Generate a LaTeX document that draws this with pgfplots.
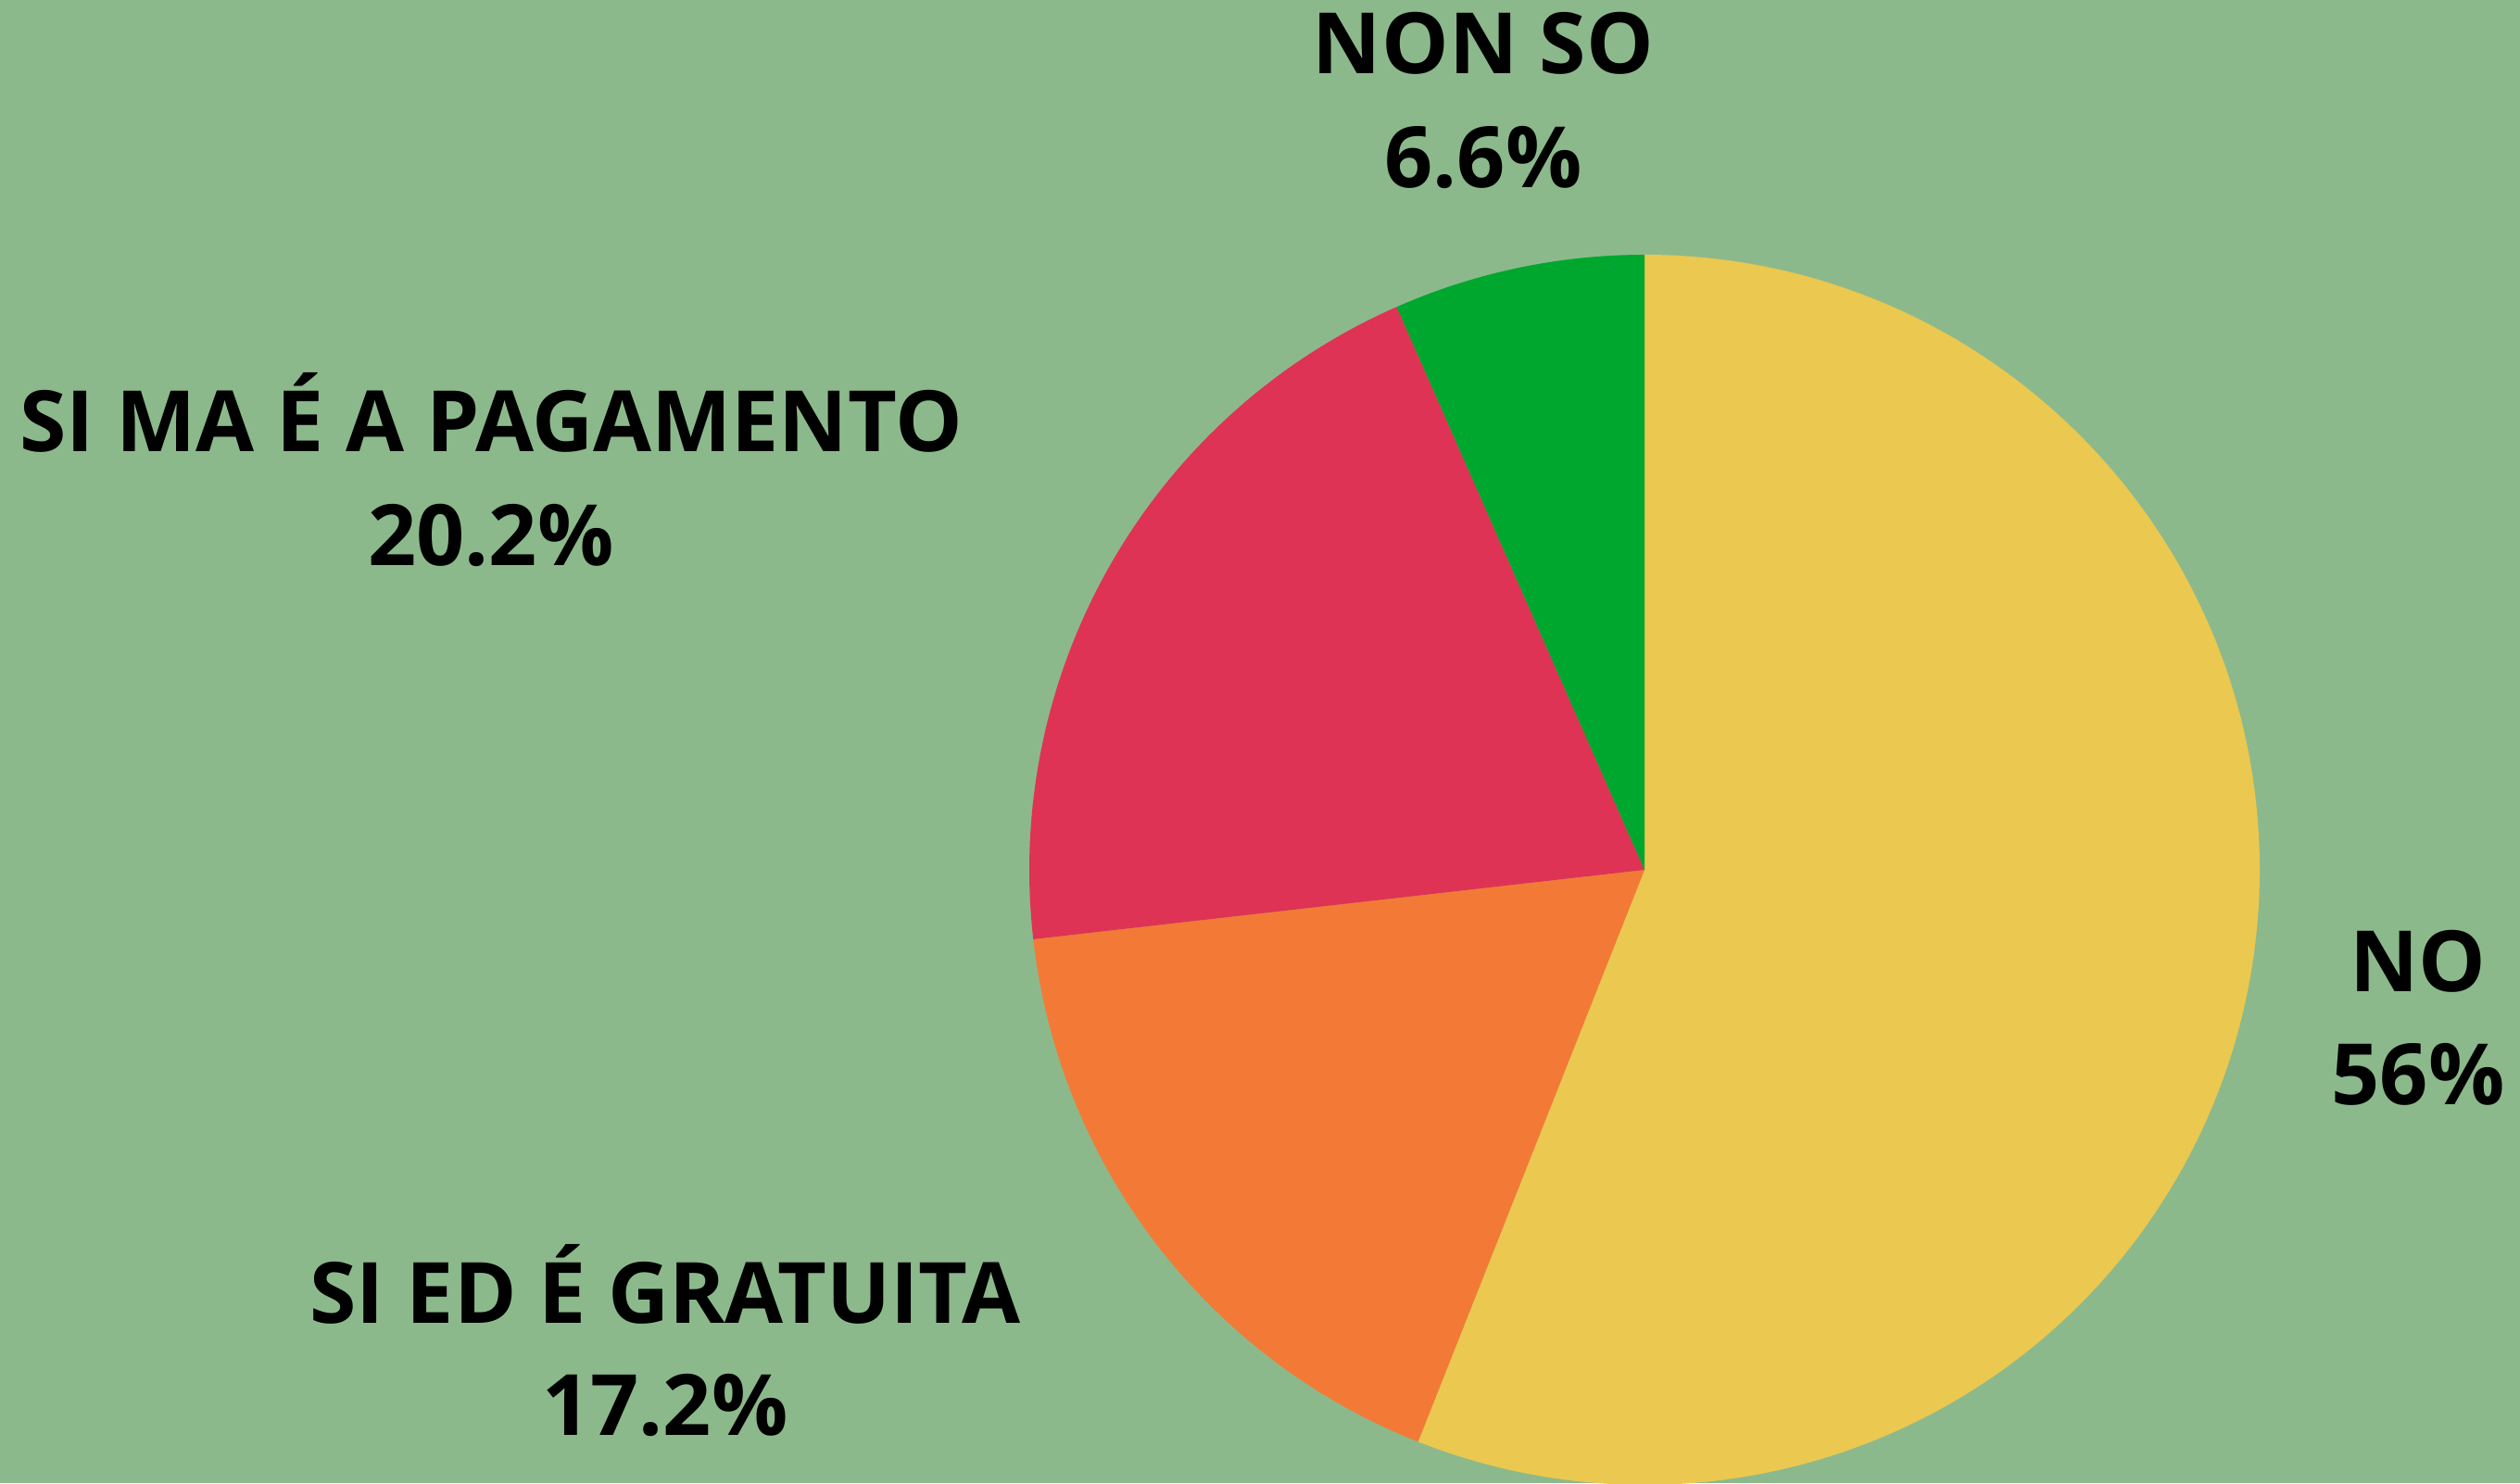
\documentclass[border=0pt]{standalone}
\usepackage{pgfplots}
\pgfplotsset{compat=1.18}
\usepackage{fontspec}
\setmainfont{Open Sans}
\definecolor{bg}{HTML}{8CB98C}
\definecolor{cno}{HTML}{EBC84F}
\definecolor{cgr}{HTML}{F37A36}
\definecolor{cpa}{HTML}{DE3355}
\definecolor{cns}{HTML}{00A72F}
% shares (percent)
\def\vNO{56}
\def\vGR{17.2}
\def\vPA{20.2}
\def\vNS{6.6}
\pgfmathsetmacro\aA{90}
\pgfmathsetmacro\aB{\aA-3.6*\vNO}
\pgfmathsetmacro\aC{\aB-3.6*\vGR}
\pgfmathsetmacro\aD{\aC-3.6*\vPA}
\pgfmathsetmacro\aE{\aD-3.6*\vNS}
\def\cx{17.75}
\def\cy{6.62}
\def\pr{6.64}
\tikzset{lbl/.style={anchor=base, text=black, font=\fontsize{26}{31}\selectfont\bfseries}}
\begin{document}
\begin{tikzpicture}
\begin{axis}[x=1cm, y=1cm, xmin=0, xmax=27.2, ymin=0, ymax=16.01,
  hide axis, scale only axis, clip=false]
\coordinate (bl) at (axis cs:0,0);
\coordinate (tr) at (axis cs:27.2,16.01);
\fill[bg] (axis cs:0,0) rectangle (axis cs:27.2,16.01);
\begin{scope}
\clip (axis cs:0,0) rectangle (axis cs:27.2,16.01);
\fill[cno] (axis cs:\cx,\cy) -- ++(\aA:\pr cm) arc[start angle=\aA, end angle=\aB, radius=\pr cm] -- cycle;
\fill[cgr] (axis cs:\cx,\cy) -- ++(\aB:\pr cm) arc[start angle=\aB, end angle=\aC, radius=\pr cm] -- cycle;
\fill[cpa] (axis cs:\cx,\cy) -- ++(\aC:\pr cm) arc[start angle=\aC, end angle=\aD, radius=\pr cm] -- cycle;
\fill[cns] (axis cs:\cx,\cy) -- ++(\aD:\pr cm) arc[start angle=\aD, end angle=\aE, radius=\pr cm] -- cycle;
\end{scope}
\node[lbl] at (axis cs:16.01,15.21) {NON SO};
\node[lbl] at (axis cs:16.01,13.98) {\vNS\%};
\node[lbl] at (axis cs:5.30,11.13) {SI MA É A PAGAMENTO};
\node[lbl] at (axis cs:5.30,9.91) {\vPA\%};
\node[lbl] at (axis cs:26.10,5.31) {NO};
\node[lbl] at (axis cs:26.10,4.09) {\vNO\%};
\node[lbl] at (axis cs:7.18,1.73) {SI ED É GRATUITA};
\node[lbl] at (axis cs:7.18,0.52) {\vGR\%};
\end{axis}
\pgfresetboundingbox
\path[use as bounding box] (bl) rectangle (tr);
\end{tikzpicture}
\end{document}
